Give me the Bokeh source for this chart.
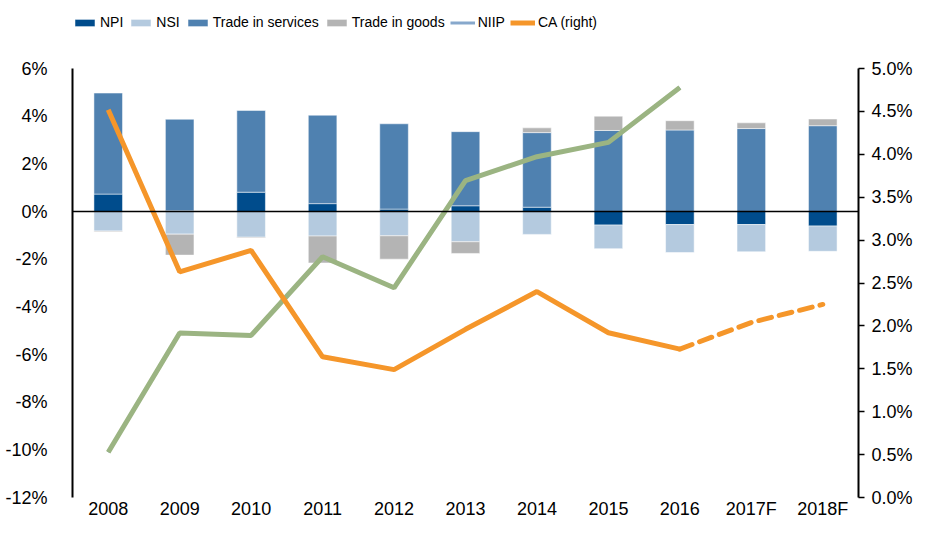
from bokeh.plotting import figure
from bokeh.models import (FactorRange, Range1d, LinearAxis, FixedTicker,
                          PrintfTickFormatter, Span, Legend, LegendItem)
from bokeh.embed import file_html
from bokeh.resources import INLINE

years = ["2008", "2009", "2010", "2011", "2012", "2013", "2014", "2015", "2016", "2017F", "2018F"]
npi = [0.73, 0.03, 0.81, 0.33, 0.10, 0.24, 0.18, -0.57, -0.55, -0.55, -0.61]
nsi = [-0.82, -0.95, -1.08, -1.03, -1.02, -1.27, -0.96, -0.99, -1.17, -1.14, -1.06]
services = [4.24, 3.84, 3.43, 3.71, 3.58, 3.11, 3.13, 3.40, 3.42, 3.48, 3.60]
goods = [-0.03, -0.88, -0.03, -1.13, -0.98, -0.49, 0.20, 0.60, 0.39, 0.24, 0.28]
niip_years = ["2008", "2009", "2010", "2011", "2012", "2013", "2014", "2015", "2016"]
niip = [-10.1, -5.1, -5.2, -1.9, -3.2, 1.3, 2.3, 2.9, 5.2]
ca = [4.52, 2.63, 2.88, 1.64, 1.49, 1.96, 2.40, 1.92, 1.73, 2.04, 2.25]
ca_actual_n = 9
left_ticks = [-12, -10, -8, -6, -4, -2, 0, 2, 4, 6]
right_ticks = [0.0, 0.5, 1.0, 1.5, 2.0, 2.5, 3.0, 3.5, 4.0, 4.5, 5.0]
left_min, left_max = -12, 6
right_min, right_max = 0.0, 5.0

C_NPI = "#004C8C"
C_NSI = "#B4CADF"
C_SERV = "#4F81B0"
C_GOODS = "#B4B4B4"
C_NIIP_LEG = "#87A8CC"
C_NIIP = "#9BB482"
C_CA = "#F5962A"
FONT = "Liberation Sans"

DATA_H = 429      # pixel height of the axes' span
TOP_PAD = 68      # space above the axes, used by the legend
FRAME_H = DATA_H + TOP_PAD
left_end = left_max + TOP_PAD * (left_max - left_min) / DATA_H
right_end = right_max + TOP_PAD * (right_max - right_min) / DATA_H

p = figure(x_range=FactorRange(factors=years, range_padding=0),
           y_range=Range1d(left_min, left_end), frame_width=786, frame_height=FRAME_H,
           output_backend="svg", toolbar_location=None,
           min_border_left=72, min_border_right=52,
           min_border_top=0, min_border_bottom=24)
p.extra_y_ranges = {"right": Range1d(right_min, right_end)}
p.outline_line_color = None
p.xgrid.visible = False
p.ygrid.visible = False

series = [("NPI", npi, C_NPI), ("NSI", nsi, C_NSI),
          ("Trade in services", services, C_SERV), ("Trade in goods", goods, C_GOODS)]
pos = [0.0] * len(years)
neg = [0.0] * len(years)
items = []
for name, vals, col in series:
    bottoms, tops = [], []
    for i, v in enumerate(vals):
        if v >= 0:
            b = pos[i]; t = b + v; pos[i] = t
        else:
            b = neg[i]; t = b + v; neg[i] = t
        bottoms.append(b); tops.append(t)
    r = p.vbar(x=years, bottom=bottoms, top=tops, width=0.4,
               fill_color=col, line_color="white", line_alpha=0.5, line_width=1)
    items.append(LegendItem(label=name, renderers=[r]))

p.add_layout(Span(location=0, dimension="width", line_color="black", line_width=1.5))

# NIIP: legend swatch colour (blue) drawn beneath, visible green series on top
niip_leg = p.line(niip_years, niip, line_color=C_NIIP_LEG, line_width=3)
p.line(niip_years, niip, line_color=C_NIIP, line_width=5)
items.append(LegendItem(label="NIIP", renderers=[niip_leg]))

ca_solid = p.line(years[:ca_actual_n], ca[:ca_actual_n], line_color=C_CA, line_width=5,
                  y_range_name="right")
p.line(years[ca_actual_n - 1:], ca[ca_actual_n - 1:], line_color=C_CA, line_width=5,
       line_dash="13 8", line_cap="round", y_range_name="right")
items.append(LegendItem(label="CA (right)", renderers=[ca_solid]))

# left axis
ya = p.yaxis[0]
ya.bounds = (left_min, left_max)
ya.ticker = FixedTicker(ticks=left_ticks)
ya.formatter = PrintfTickFormatter(format="%d%%")
ya.axis_line_color = "black"
ya.axis_line_width = 2
ya.major_tick_line_color = None
ya.minor_tick_line_color = None
ya.major_label_standoff = 19
ya.major_label_text_font = FONT
ya.major_label_text_font_size = "18px"
ya.major_label_text_color = "black"

# right axis
ra = LinearAxis(y_range_name="right", ticker=FixedTicker(ticks=right_ticks),
                formatter=PrintfTickFormatter(format="%.1f%%"),
                bounds=(right_min, right_max))
ra.axis_line_color = "black"
ra.axis_line_width = 2
ra.major_tick_line_color = "black"
ra.major_tick_line_width = 1.5
ra.major_tick_out = 6
ra.major_tick_in = 0
ra.minor_tick_line_color = None
ra.major_label_standoff = 7
ra.major_label_text_font = FONT
ra.major_label_text_font_size = "18px"
ra.major_label_text_color = "black"
p.add_layout(ra, "right")

# x axis
xa = p.xaxis[0]
xa.axis_line_color = None
xa.major_tick_line_color = None
xa.minor_tick_line_color = None
xa.major_tick_out = 0
xa.major_label_standoff = 1
xa.major_label_text_font = FONT
xa.major_label_text_font_size = "18px"
xa.major_label_text_color = "black"

legend_center_y = 22
legend_h = 17
legend = Legend(items=items, orientation="horizontal",
                location=(0, FRAME_H - legend_center_y - legend_h / 2),
                glyph_width=25, glyph_height=9, label_height=legend_h,
                label_standoff=3, spacing=5, padding=0, margin=0,
                border_line_color=None, background_fill_alpha=0,
                label_text_font=FONT, label_text_font_size="14px",
                label_text_color="black")
p.add_layout(legend, "center")

open("out.html", "w").write(file_html(p, INLINE))
